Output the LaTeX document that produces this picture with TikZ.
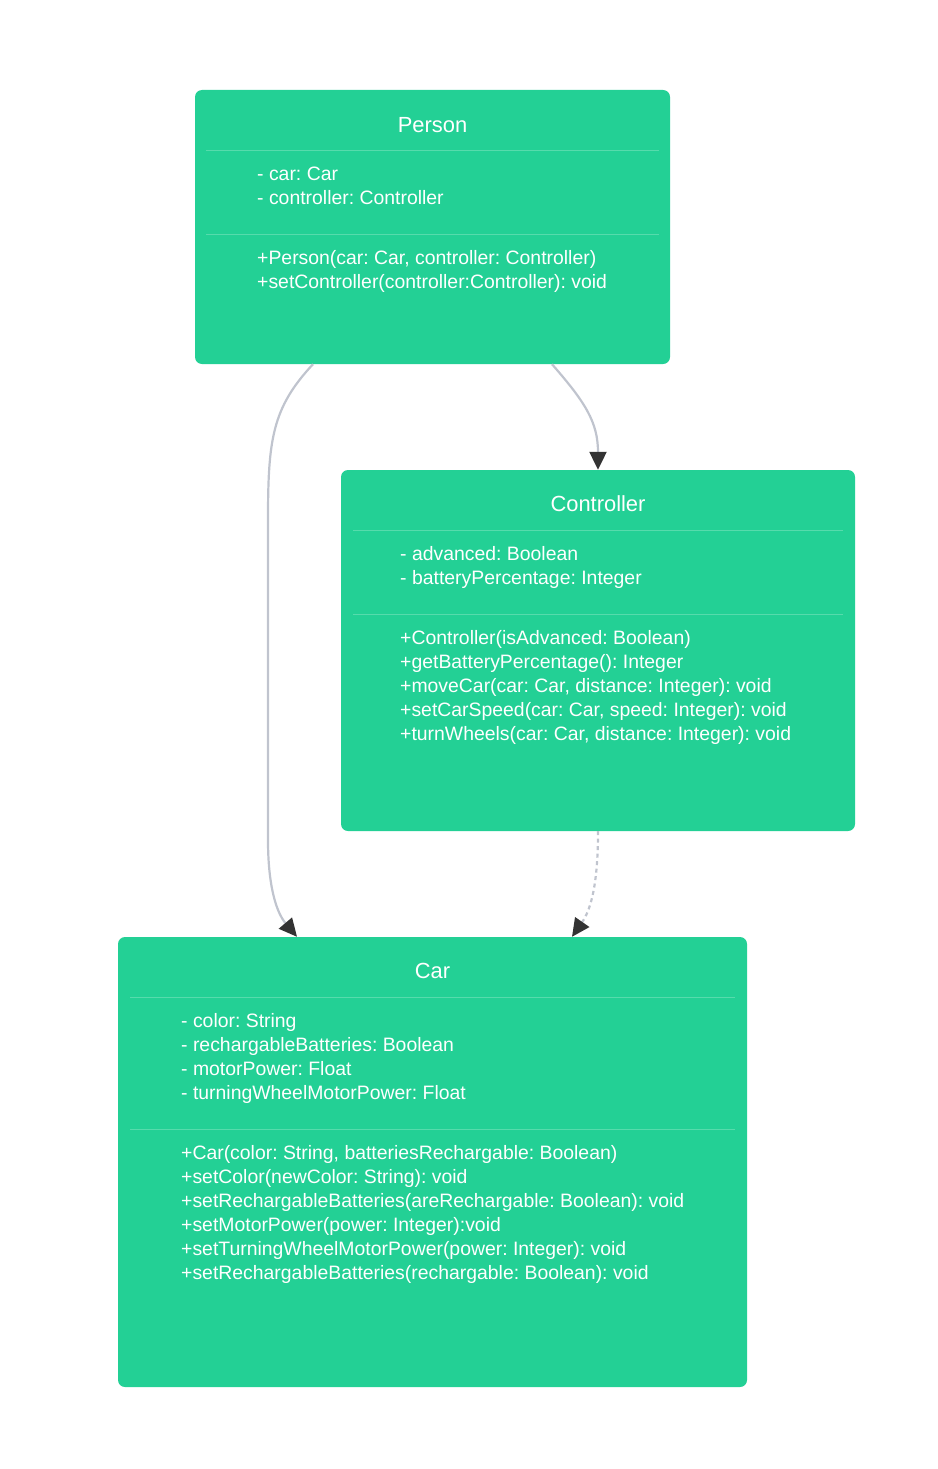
\documentclass[tikz,border=0pt]{standalone}
\usepackage{fontspec}
\setmainfont{Liberation Sans}
\usetikzlibrary{arrows.meta}
\definecolor{boxfill}{RGB}{35,208,149}
\definecolor{sepc}{RGB}{86,219,172}
\definecolor{connc}{RGB}{192,196,206}
\definecolor{tipc}{RGB}{51,51,51}
\tikzset{
  umlbox/.style={draw=none, fill=boxfill, rounded corners=7pt, rectangle, inner sep=0pt},
  umltitle/.style={text=white, font=\fontsize{21.9}{26}\selectfont, anchor=base, inner sep=0pt},
  umlline/.style={text=white, font=\fontsize{19.4}{24}\selectfont, anchor=base west, inner sep=0pt},
  sepline/.style={draw=sepc, line width=1pt},
  conn/.style={draw=connc, line width=2.2pt, -{Triangle[length=18pt,width=17pt,color=tipc,fill=tipc]}},
  depconn/.style={conn, dash pattern=on 4pt off 3.5pt}
}
\begin{document}
\frenchspacing
\begin{tikzpicture}[x=1pt,y=-1pt]
\useasboundingbox (0,0) rectangle (937,1469);
% boxes
\node[umlbox, minimum width=475pt, minimum height=274pt] (person) at (432.5,227) {};
\node[umlbox, minimum width=514pt, minimum height=361pt] (controller) at (598,650.5) {};
\node[umlbox, minimum width=629pt, minimum height=450pt] (car) at (432.5,1162) {};
% Person
\node[umltitle] (ptitle) at (432.5,132) {Person};
\draw[sepline] (206,150.5) -- (659,150.5);
\draw[sepline] (206,234.5) -- (659,234.5);
\node[umlline] (pa1) at (257,180) {- car: Car};
\node[umlline] (pa2) at (257,204) {- controller: Controller};
\node[umlline] (pm1) at (257,264) {+Person(car: Car, controller: Controller)};
\node[umlline] (pm2) at (257,288) {+setController(controller:Controller): void};
% Controller
\node[umltitle] (ctitle) at (598,511) {Controller};
\draw[sepline] (353,530.5) -- (843,530.5);
\draw[sepline] (353,614.5) -- (843,614.5);
\node[umlline] (ca1) at (400,560) {- advanced: Boolean};
\node[umlline] (ca2) at (400,584) {- batteryPercentage: Integer};
\node[umlline] (cm1) at (400,644) {+Controller(isAdvanced: Boolean)};
\node[umlline] (cm2) at (400,668) {+getBatteryPercentage(): Integer};
\node[umlline] (cm3) at (400,692) {+moveCar(car: Car, distance: Integer): void};
\node[umlline] (cm4) at (400,716) {+setCarSpeed(car: Car, speed: Integer): void};
\node[umlline] (cm5) at (400,740) {+turnWheels(car: Car, distance: Integer): void};
% Car
\node[umltitle] (artitle) at (432.5,978) {Car};
\draw[sepline] (130,997.5) -- (735,997.5);
\draw[sepline] (130,1129.5) -- (735,1129.5);
\node[umlline] (ra1) at (181,1027) {- color: String};
\node[umlline] (ra2) at (181,1051) {- rechargableBatteries: Boolean};
\node[umlline] (ra3) at (181,1075) {- motorPower: Float};
\node[umlline] (ra4) at (181,1099) {- turningWheelMotorPower: Float};
\node[umlline] (rm1) at (181,1159) {+Car(color: String, batteriesRechargable: Boolean)};
\node[umlline] (rm2) at (181,1183) {+setColor(newColor: String): void};
\node[umlline] (rm3) at (181,1207) {+setRechargableBatteries(areRechargable: Boolean): void};
\node[umlline] (rm4) at (181,1231) {+setMotorPower(power: Integer):void};
\node[umlline] (rm5) at (181,1255) {+setTurningWheelMotorPower(power: Integer): void};
\node[umlline] (rm6) at (181,1279) {+setRechargableBatteries(rechargable: Boolean): void};
% connectors
\draw[conn] ([xshift=-119.5pt]person.south) .. controls (272,408) and (268,440) .. (268,520)
  -- (268,840) .. controls (268,885) and (276,912) .. ([xshift=-135.5pt]car.north);
\draw[conn] ([xshift=119.5pt]person.south) .. controls (585,402) and (598,422) .. (controller.north);
\draw[depconn] (controller.south) .. controls (598,880) and (592,908) .. ([xshift=139.5pt]car.north);
\end{tikzpicture}
\end{document}
